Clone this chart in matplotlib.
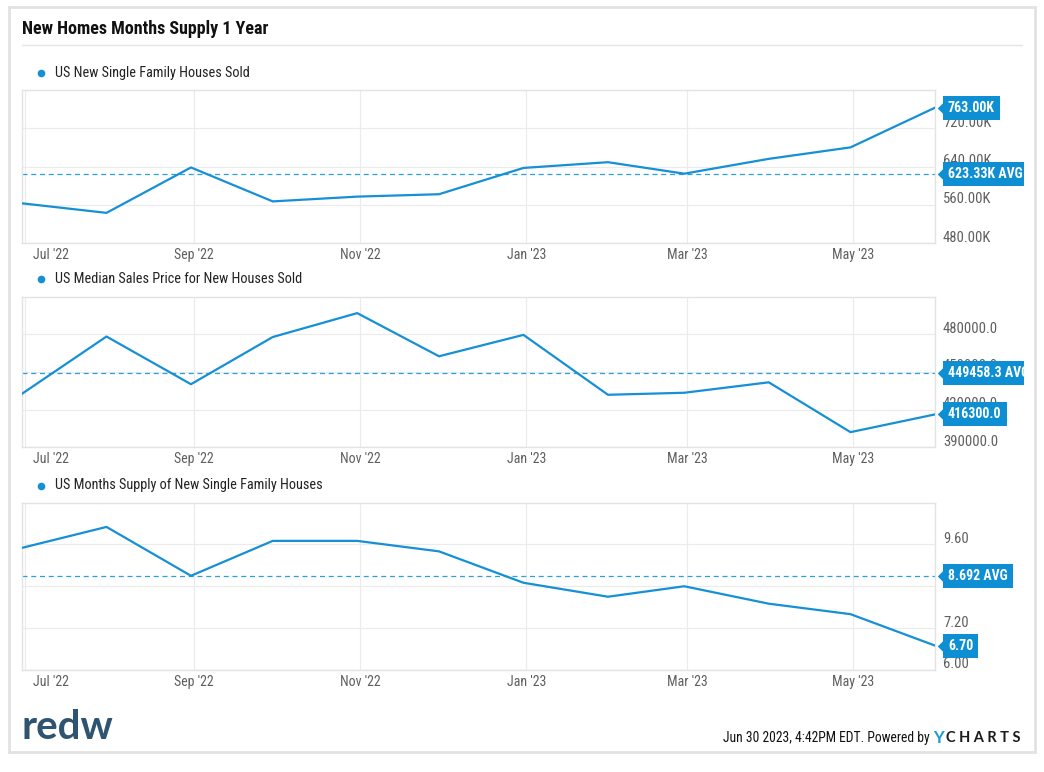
import matplotlib
matplotlib.use('Agg')
import matplotlib.pyplot as plt
from matplotlib.patches import Rectangle
from matplotlib.lines import Line2D
from matplotlib.transforms import ScaledTranslation
from datetime import date
import numpy as np

FONT = ['Roboto Condensed', 'Liberation Sans Narrow', 'Roboto', 'DejaVu Sans']
plt.rcParams['font.family'] = FONT

# monthly data, YCharts dates them at month end
dates = [date(2022, 6, 30), date(2022, 7, 31), date(2022, 8, 31), date(2022, 9, 30),
         date(2022, 10, 31), date(2022, 11, 30), date(2022, 12, 31), date(2023, 1, 31),
         date(2023, 2, 28), date(2023, 3, 31), date(2023, 4, 30), date(2023, 5, 31)]
houses_sold = [563, 543, 638, 567, 577, 582, 637, 649, 625, 656, 680, 763]   # thousands
median_price = [432700, 478200, 440300, 477800, 496800, 462500, 479500, 431900,
                433500, 441800, 402200, 416300]
months_supply = [9.5, 10.1, 8.7, 9.7, 9.7, 9.4, 8.5, 8.1, 8.4, 7.9, 7.6, 6.7]

tick_dates = [date(2022, 7, 1), date(2022, 9, 1), date(2022, 11, 1),
              date(2023, 1, 1), date(2023, 3, 1), date(2023, 5, 1)]
tick_labels = ["Jul '22", "Sep '22", "Nov '22", "Jan '23", "Mar '23", "May '23"]

names = ['US New Single Family Houses Sold',
         'US Median Sales Price for New Houses Sold',
         'US Months Supply of New Single Family Houses']

LINE = '#1690d5'
TAG = '#0e8fd3'
DASH = '#2b9fe0'
GRID = '#ebebeb'
LABEL = '#5f5f5f'

W, H = 1044, 772
fig = plt.figure(figsize=(W / 100, H / 100), dpi=100)
fig.patch.set_facecolor('white')


def fx(px):
    return px / W


def fy(py):
    return 1 - py / H


def px_off(dx, dy):
    return ScaledTranslation(dx / 100, dy / 100, fig.dpi_scale_trans)


# title and rule
fig.text(fx(22), fy(29), 'New Homes Months Supply 1 Year', fontsize=13,
         fontweight='bold', color='#111111', va='center', ha='left')
fig.add_artist(Line2D([fx(22), fx(1022)], [fy(45), fy(45)], color='#e5e5e5', lw=1,
                      transform=fig.transFigure))

panels = [
    dict(values=houses_sold, top=90, bottom=243, ylim=(480, 800),
         ticks=[480, 560, 640, 720], fmt=lambda v: '%.2fK' % v),
    dict(values=median_price, top=296.5, bottom=447.5, ylim=(390000, 510000),
         ticks=[390000, 420000, 450000, 480000], fmt=lambda v: '%.1f' % v),
    dict(values=months_supply, top=502.5, bottom=670, ylim=(6.0, 10.8),
         ticks=[6.0, 7.2, 8.4, 9.6], fmt=lambda v: '%.2f' % v),
]


def add_tag(ax, y, text):
    base = ax.get_yaxis_transform()
    ax.plot([1.0], [y], marker=[(-1, 0), (0, 1), (0, -1)], markersize=14,
            color=TAG, transform=base + px_off(12, 0), clip_on=False, zorder=6,
            markeredgewidth=0)
    ax.text(1.0, y, text, transform=base + px_off(13, 0), ha='left', va='center',
            fontsize=10, fontweight='bold', color='white', zorder=7, clip_on=False,
            bbox=dict(boxstyle='square,pad=0.36', fc=TAG, ec='none'))


for i, p in enumerate(panels):
    ax = fig.add_axes([fx(22), fy(p['bottom']), fx(935) - fx(22),
                       fy(p['top']) - fy(p['bottom'])])
    vals = p['values']
    ax.plot(dates, vals, color=LINE, lw=1.6, zorder=3, solid_joinstyle='round')
    avg = np.mean(vals)
    ax.axhline(avg, color=DASH, lw=0.9, ls=(0, (4, 3)), zorder=2)

    ax.set_xlim(dates[0], dates[-1])
    ax.set_ylim(*p['ylim'])
    ax.set_xticks(tick_dates)
    ax.set_yticks(p['ticks'])
    ax.tick_params(length=0, labelbottom=False, labelleft=False)
    ax.grid(True, color=GRID, lw=0.8)
    ax.set_axisbelow(True)
    for s in ax.spines.values():
        s.set_color('#e3e3e3')
        s.set_linewidth(1)

    # x labels
    for j, (d, lab) in enumerate(zip(tick_dates, tick_labels)):
        if j == 0:
            ax.text(d, 0, lab, transform=ax.get_xaxis_transform() + px_off(8, -12),
                    ha='left', va='center', fontsize=10, color=LABEL)
        else:
            ax.text(d, 0, lab, transform=ax.get_xaxis_transform() + px_off(0, -12),
                    ha='center', va='center', fontsize=10, color=LABEL)

    # right axis labels
    for t in p['ticks']:
        ax.text(1.0, t, p['fmt'](t), transform=ax.get_yaxis_transform() + px_off(8, 1.5),
                ha='left', va='baseline', fontsize=10.5, color=LABEL, clip_on=False)

    # legend row
    ly = p['top'] - 17
    fig.add_artist(Line2D([fx(41)], [fy(ly)], marker='o', markersize=4.5, color=LINE,
                          transform=fig.transFigure, lw=0))
    fig.text(fx(55), fy(ly), names[i], fontsize=10.3, color='#222222', va='center', ha='left')

    if i == 0:
        last_txt = '%.2fK' % vals[-1]
        avg_txt = '%.2fK AVG' % avg
    elif i == 1:
        last_txt = '%.1f' % vals[-1]
        avg_txt = '%.1f AVG' % avg
    else:
        last_txt = '%.2f' % vals[-1]
        avg_txt = '%.3f AVG' % avg
    add_tag(ax, avg, avg_txt)
    add_tag(ax, vals[-1], last_txt)

# tags are cut off at the chart's right margin, then the card frame goes on top
fig.patches.append(Rectangle((fx(1023.5), fy(700)), fx(1040) - fx(1023.5), fy(50) - fy(700),
                             transform=fig.transFigure, fc='white', ec='none', zorder=10))
fig.patches.append(Rectangle((fx(9), fy(752)), fx(1035) - fx(9), fy(7) - fy(752),
                             transform=fig.transFigure, fill=False, ec='#e2e2e2', lw=2,
                             zorder=11))

# footer
fig.text(fx(21), fy(739), 'redw', fontsize=29, fontweight='bold', color='#2e5472',
         ha='left', va='baseline', family=['Lato', 'Roboto', 'DejaVu Sans'])
fig.text(fx(930), fy(738), 'Jun 30 2023, 4:42PM EDT. Powered by', fontsize=9.8,
         color='#111111', ha='right', va='center')
fig.text(fx(933), fy(738), 'Y', fontsize=12, fontweight='bold', color='#1a9ad6',
         ha='left', va='center', family=['Lato', 'Roboto', 'DejaVu Sans'])
fig.text(fx(946), fy(738), 'C H A R T S', fontsize=10.5, fontweight='bold', color='#1a1a1a',
         ha='left', va='center', family=['Lato', 'Roboto', 'DejaVu Sans'])

fig.savefig('out.png', dpi=100, facecolor='white')
